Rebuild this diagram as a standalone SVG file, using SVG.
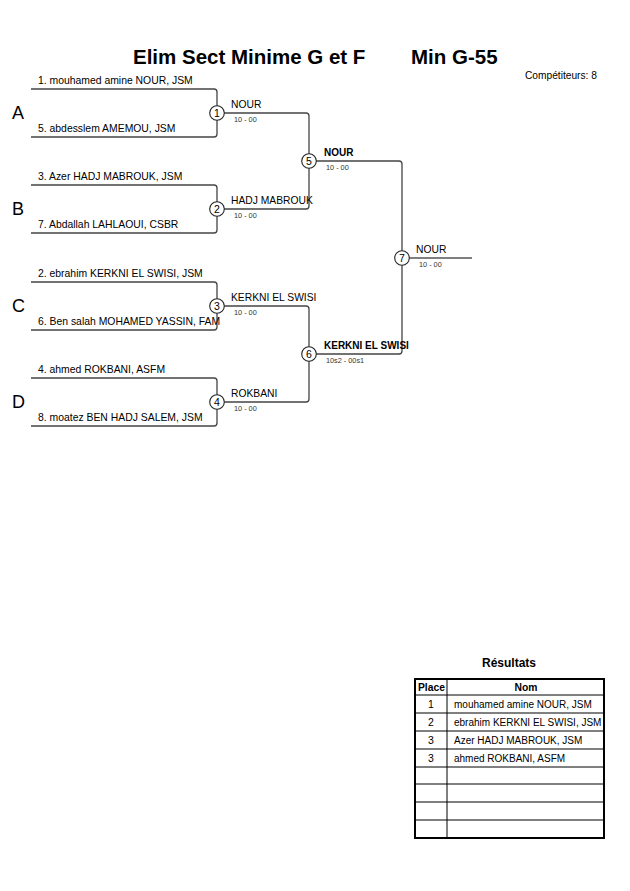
<svg xmlns="http://www.w3.org/2000/svg" width="630" height="891" viewBox="0 0 630 891">
<style>
text{font-family:"Liberation Sans",Arial,sans-serif;fill:#000}
.t{font-size:20.5px;font-weight:bold}
.p{font-size:10.4px}
.r{font-size:10px}
.g{font-size:18px}
.w{font-size:10.3px}
.wb{font-size:10px;font-weight:bold}
.s{font-size:7.3px;fill:#333}
.n{font-size:10.5px;text-anchor:middle}
.br{fill:none;stroke:#444;stroke-width:1.3}
.c{fill:#fff;stroke:#222;stroke-width:1.1}
.tb{fill:none;stroke:#000;stroke-width:1}
.hd{font-size:10.3px;font-weight:bold}
</style>
<rect width="630" height="891" fill="#fff"/>
<g id="title">
<text class="t" x="133" y="64">Elim Sect Minime G et F</text>
<text class="t" x="411" y="64">Min G-55</text>
<text x="525" y="79" style="font-size:10.2px">Compétiteurs: 8</text>
</g>
<g id="connectors">
<path class="br" d="M31 89H214a3 3 0 0 1 3 3V134a3 3 0 0 1-3 3H31"/>
<path class="br" d="M31 185H214a3 3 0 0 1 3 3V230a3 3 0 0 1-3 3H31"/>
<path class="br" d="M31 282H214a3 3 0 0 1 3 3V327a3 3 0 0 1-3 3H31"/>
<path class="br" d="M31 378H214a3 3 0 0 1 3 3V423a3 3 0 0 1-3 3H31"/>
<path class="br" d="M217 113H306a3 3 0 0 1 3 3V206a3 3 0 0 1-3 3H217"/>
<path class="br" d="M217 306H306a3 3 0 0 1 3 3V399a3 3 0 0 1-3 3H217"/>
<path class="br" d="M309 161H399a3 3 0 0 1 3 3V351a3 3 0 0 1-3 3H309"/>
<path d="M402 258H472" stroke="#000" stroke-width="1.2"/>
</g>
<g id="pool-A">
<text class="g" x="12" y="119">A</text>
<text class="p" x="38" y="84">1. mouhamed amine NOUR, JSM</text>
<text class="p" x="38" y="132">5. abdesslem AMEMOU, JSM</text>
</g>
<g id="pool-B">
<text class="g" x="12" y="215">B</text>
<text class="p" x="38" y="180">3. Azer HADJ MABROUK, JSM</text>
<text class="p" x="38" y="228">7. Abdallah LAHLAOUI, CSBR</text>
</g>
<g id="pool-C">
<text class="g" x="12" y="312">C</text>
<text class="p" x="38" y="277">2. ebrahim KERKNI EL SWISI, JSM</text>
<text class="p" x="38" y="325">6. Ben salah MOHAMED YASSIN, FAM</text>
</g>
<g id="pool-D">
<text class="g" x="12" y="408">D</text>
<text class="p" x="38" y="373">4. ahmed ROKBANI, ASFM</text>
<text class="p" x="38" y="421">8. moatez BEN HADJ SALEM, JSM</text>
</g>
<g id="match-1">
<circle class="c" cx="217" cy="113" r="7.3"/>
<text class="n" x="217" y="116.8">1</text>
<text class="w" x="231" y="108">NOUR</text>
<text class="s" x="234" y="122">10 - 00</text>
</g>
<g id="match-2">
<circle class="c" cx="217" cy="209" r="7.3"/>
<text class="n" x="217" y="212.8">2</text>
<text class="w" x="231" y="204">HADJ MABROUK</text>
<text class="s" x="234" y="218">10 - 00</text>
</g>
<g id="match-3">
<circle class="c" cx="217" cy="306" r="7.3"/>
<text class="n" x="217" y="309.8">3</text>
<text class="w" x="231" y="301">KERKNI EL SWISI</text>
<text class="s" x="234" y="315">10 - 00</text>
</g>
<g id="match-4">
<circle class="c" cx="217" cy="402" r="7.3"/>
<text class="n" x="217" y="405.8">4</text>
<text class="w" x="231" y="397">ROKBANI</text>
<text class="s" x="234" y="411">10 - 00</text>
</g>
<g id="match-5">
<circle class="c" cx="309" cy="161" r="7.3"/>
<text class="n" x="309" y="164.8">5</text>
<text class="wb" x="324" y="156">NOUR</text>
<text class="s" x="326" y="170">10 - 00</text>
</g>
<g id="match-6">
<circle class="c" cx="309" cy="354" r="7.3"/>
<text class="n" x="309" y="357.8">6</text>
<text class="wb" x="324" y="349">KERKNI EL SWISI</text>
<text class="s" x="326" y="363">10s2 - 00s1</text>
</g>
<g id="match-7">
<circle class="c" cx="402" cy="258" r="7.3"/>
<text class="n" x="402" y="261.8">7</text>
<text class="w" x="416" y="253">NOUR</text>
<text class="s" x="419" y="267">10 - 00</text>
</g>
<g id="results">
<text class="hd" x="509" y="667" text-anchor="middle" style="font-size:12px">Résultats</text>
<rect x="415" y="679" width="189" height="159" fill="none" stroke="#000" stroke-width="2"/>
<path class="tb" d="M447 679V838M415 695H604M415 713H604M415 731H604M415 749H604M415 767H604M415 784H604M415 802H604M415 820H604"/>
<text class="hd" x="418" y="690.5">Place</text>
<text class="hd" x="526" y="690.5" text-anchor="middle">Nom</text>
<text class="n" x="431" y="708">1</text>
<text class="r" x="454" y="708">mouhamed amine NOUR, JSM</text>
<text class="n" x="431" y="726">2</text>
<text class="r" x="454" y="726">ebrahim KERKNI EL SWISI, JSM</text>
<text class="n" x="431" y="744">3</text>
<text class="r" x="454" y="744">Azer HADJ MABROUK, JSM</text>
<text class="n" x="431" y="762">3</text>
<text class="r" x="454" y="762">ahmed ROKBANI, ASFM</text>
</g>
</svg>
